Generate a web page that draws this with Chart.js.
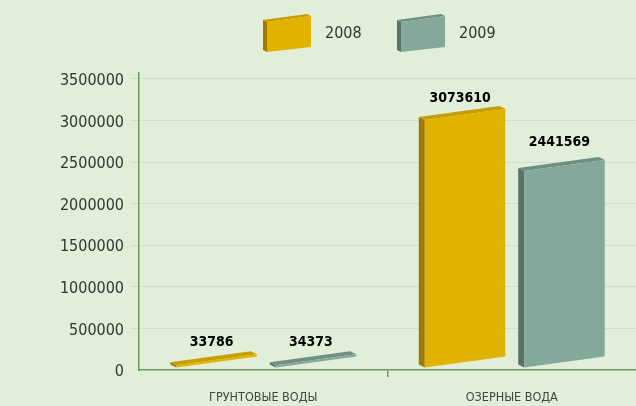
<!DOCTYPE html>
<html>
<head>
<meta charset="utf-8">
<script src="https://cdn.jsdelivr.net/npm/chart.js@4.4.1/dist/chart.umd.min.js"></script>
<style>
  html, body { margin: 0; padding: 0; background: #e1eed8; }
  #wrap { width: 636px; height: 406px; }
</style>
</head>
<body>
<div id="wrap"><canvas id="c" width="636" height="406"></canvas></div>
<script>
const categories = ['ГРУНТОВЫЕ ВОДЫ', 'ОЗЕРНЫЕ ВОДА'];
const seriesLabels = ['2008', '2009'];
const values2008 = [33786, 3073610];
const values2009 = [34373, 2441569];
const yTickValues = [0, 500000, 1000000, 1500000, 2000000, 2500000, 3000000, 3500000];

const FONT = "'DejaVu Sans Condensed', 'DejaVu Sans', sans-serif";
const palette = [
  { front: '#e1b200', side: '#a07900', top: '#c69e00' },
  { front: '#84a99b', side: '#5a7369', top: '#6e8f83' }
];

function drawBlock(ctx, fl, fr, topL, topR, botL, botR, sw, sh, col) {
  ctx.fillStyle = col.side;
  ctx.beginPath();
  ctx.moveTo(fl - sw, topL - sh); ctx.lineTo(fl, topL);
  ctx.lineTo(fl, botL); ctx.lineTo(fl - sw, botL - sh); ctx.closePath(); ctx.fill();
  ctx.fillStyle = col.top;
  ctx.beginPath();
  ctx.moveTo(fl - sw, topL - sh); ctx.lineTo(fr - sw, topR - sh);
  ctx.lineTo(fr, topR); ctx.lineTo(fl, topL); ctx.closePath(); ctx.fill();
  ctx.fillStyle = col.front;
  ctx.beginPath();
  ctx.moveTo(fl, topL); ctx.lineTo(fr, topR);
  ctx.lineTo(fr, botR); ctx.lineTo(fl, botL); ctx.closePath(); ctx.fill();
}

const bg = {
  id: 'bg',
  beforeDraw(chart) {
    const ctx = chart.ctx;
    ctx.save(); ctx.fillStyle = '#e1eed8';
    ctx.fillRect(0, 0, chart.width, chart.height); ctx.restore();
  }
};

const bars3d = {
  id: 'bars3d',
  afterDatasetsDraw(chart) {
    const ctx = chart.ctx;
    ctx.save();
    chart.data.datasets.forEach((ds, di) => {
      const meta = chart.getDatasetMeta(di);
      meta.data.forEach((el, i) => {
        const p = el.getProps(['x', 'y', 'base', 'width'], true);
        const L = p.x - p.width / 2, R = p.x + p.width / 2;
        const sw = 6, sh = 3, skew = 11;
        const h = (p.base - p.y) * 0.97;
        const botL = p.base - 2, botR = p.base - 2 - skew;
        drawBlock(ctx, L + sw, R, botL - h, botR - h, botL, botR, sw, sh, palette[di]);
        const v = ds.data[i];
        ctx.fillStyle = '#000';
        ctx.font = 'bold 14px ' + FONT;
        ctx.textAlign = 'center';
        ctx.textBaseline = 'middle';
        const ly = Math.max(p.y - 25, chart.chartArea.top + 25);
        ctx.fillText(String(v), p.x - 2, ly);
      });
    });
    ctx.restore();
  }
};

const legend3d = {
  id: 'legend3d',
  afterDraw(chart) {
    const ctx = chart.ctx;
    ctx.save();
    chart.data.datasets.forEach((ds, di) => {
      const L = 263 + di * 134, R = L + 48;
      drawBlock(ctx, L + 4, R, 22, 16, 52, 47, 4, 2, palette[di]);
      ctx.fillStyle = '#333';
      ctx.font = '16px ' + FONT;
      ctx.textAlign = 'left';
      ctx.textBaseline = 'middle';
      ctx.fillText(ds.label, R + 14, 34);
    });
    ctx.restore();
  }
};

new Chart(document.getElementById('c'), {
  type: 'bar',
  data: {
    labels: categories,
    datasets: [
      { label: seriesLabels[0], data: values2008, backgroundColor: 'rgba(0,0,0,0)' },
      { label: seriesLabels[1], data: values2009, backgroundColor: 'rgba(0,0,0,0)' }
    ]
  },
  options: {
    responsive: false,
    animation: false,
    events: [],
    layout: { padding: { top: 73, right: 0, bottom: 0, left: 0 } },
    plugins: { legend: { display: false }, tooltip: { enabled: false } },
    datasets: { bar: { categoryPercentage: 0.8, barPercentage: 0.87 } },
    scales: {
      x: {
        offset: true,
        grid: {
          offset: true,
          drawOnChartArea: false,
          tickLength: 7,
          color: (c) => (c.index === 1 ? '#5f9a5a' : 'rgba(0,0,0,0)'),
          lineWidth: 1.5
        },
        border: { color: '#6b9d62', width: 1.5 },
        ticks: { color: '#444', font: { family: FONT, size: 12.5 }, padding: 13 },
        afterFit(s) { s.height = 36; }
      },
      y: {
        min: 0,
        max: 3570000,
        afterBuildTicks(s) { s.ticks = yTickValues.map((v) => ({ value: v })); },
        ticks: {
          color: '#333',
          font: { family: FONT, size: 16 },
          padding: 7,
          labelOffset: 2,
          callback: (v) => String(v)
        },
        grid: {
          tickLength: 8,
          color: (c) => (c.tick && c.tick.value > 0 ? '#d3dbd8' : 'rgba(0,0,0,0)')
        },
        border: { color: '#6b9d62', width: 1.5 },
        afterFit(s) { s.width = 139; }
      }
    }
  },
  plugins: [bg, bars3d, legend3d]
});
</script>
</body>
</html>
